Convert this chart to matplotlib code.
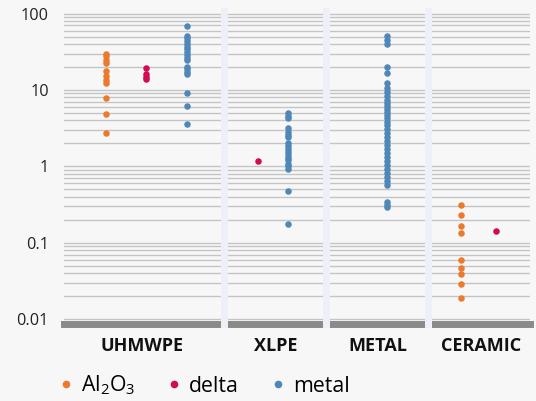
import numpy as np
import matplotlib.pyplot as plt
from matplotlib.lines import Line2D
from matplotlib.patches import Rectangle
from matplotlib.ticker import LogLocator, FixedLocator, NullFormatter

plt.rcParams['font.family'] = ['Open Sans', 'DejaVu Sans']

# data
panels = ['UHMWPE', 'XLPE', 'METAL', 'CERAMIC']
series_names = ['Al$_\\mathregular{2}$O$_\\mathregular{3}$', 'delta', 'metal']
colors = ['#ec7a2e', '#d30a55', '#4f88b8']

uhmwpe_al2o3 = [30, 27.5, 25, 22.3, 17.7, 15.2, 13.5, 12.5, 7.8, 4.9, 2.7]
uhmwpe_delta = [19.6, 16.2, 14.9, 13.9]
uhmwpe_metal = [68.6, 51.3, 47.4, 43.7, 40.3, 36.8, 34.0, 31.1, 28.7, 26.4,
                24.7, 20.2, 18.6, 17.3, 16.0, 9.1, 6.1, 3.6]
xlpe_delta = [1.19]
xlpe_metal = [5.0, 4.6, 4.3, 3.2, 2.85, 2.6, 2.4, 2.0, 1.85, 1.7, 1.55, 1.4,
              1.3, 1.2, 1.08, 1.0, 0.92, 0.48, 0.175]
metal_metal = [50.8, 45.0, 39.9, 20.0, 16.7, 12.3, 10.6, 9.4, 8.35, 7.4, 6.76,
               6.18, 5.64, 5.16, 4.71, 4.31, 3.82, 3.49, 3.09, 2.74, 2.43, 2.15,
               1.91, 1.69, 1.50, 1.33, 1.18, 1.05, 0.93, 0.82, 0.73, 0.65, 0.57,
               0.34, 0.31, 0.29]
ceramic_al2o3 = [0.315, 0.233, 0.167, 0.133, 0.060, 0.047, 0.0386, 0.0285, 0.019]
ceramic_delta = [0.144]

# (series index, values) for each panel
panel_data = [
    [(0, uhmwpe_al2o3), (1, uhmwpe_delta), (2, uhmwpe_metal)],
    [(1, xlpe_delta), (2, xlpe_metal)],
    [(2, metal_metal)],
    [(0, ceramic_al2o3), (1, ceramic_delta)],
]
y_ticks = [0.01, 0.1, 1, 10, 100]
y_ticklabels = ['0.01', '0.1', '1', '10', '100']

# layout (pixels)
W, H = 536, 401
bg = '#f7f7f7'
stripe = '#eef0f8'
panel_left = [64, 228, 330, 432]
panel_width = [157, 95, 95, 98]
panel_xlim = [(-1.025, 2.85), (-1.0, 2.167), (-1.9, 1.267), (-0.83, 1.97)]
top_px, bottom_px = 8, 323.5

fig = plt.figure(figsize=(W / 100, H / 100), dpi=100, facecolor=bg)

# separator stripes between panels
for i in range(len(panels) - 1):
    x0 = panel_left[i] + panel_width[i]
    x1 = panel_left[i + 1]
    fig.patches.append(Rectangle((x0 / W, (H - 328) / H), (x1 - x0) / W,
                                 (328 - top_px) / H, transform=fig.transFigure,
                                 facecolor=stripe, edgecolor='none', zorder=0))

for i, name in enumerate(panels):
    ax = fig.add_axes([panel_left[i] / W, (H - bottom_px) / H,
                       panel_width[i] / W, (bottom_px - top_px) / H])
    ax.set_facecolor(bg)
    ax.set_yscale('log')
    ax.set_ylim(0.00875, 118.5)
    ax.set_xlim(*panel_xlim[i])

    for pos, (s, vals) in enumerate(panel_data[i]):
        ax.scatter(np.full(len(vals), pos), vals, s=22, color=colors[s],
                   linewidths=0, zorder=3)

    ax.yaxis.set_major_locator(FixedLocator(y_ticks))
    ax.yaxis.set_minor_locator(LogLocator(base=10, subs=np.arange(2, 10)))
    ax.yaxis.set_minor_formatter(NullFormatter())
    ax.grid(which='both', axis='y', color='#c4c4c4', linewidth=1.0)
    ax.set_axisbelow(True)
    ax.set_xticks([])
    ax.tick_params(axis='y', which='both', length=0)
    if i == 0:
        ax.set_yticklabels(y_ticklabels)
        ax.tick_params(axis='y', labelsize=11.7, pad=11, labelcolor='#222222')
    else:
        ax.set_yticklabels([])

    for side in ['top', 'left', 'right']:
        ax.spines[side].set_visible(False)
    ax.spines['bottom'].set_color('#8a8a8a')
    ax.spines['bottom'].set_linewidth(5.0)

    ax.annotate(name, xy=(0.5, 0), xycoords='axes fraction', xytext=(0, -16.5),
                textcoords='offset points', ha='center', va='center',
                fontsize=13, fontweight='bold', color='#111111')

handles = [Line2D([], [], marker='o', linestyle='', markersize=5.5,
                  markerfacecolor=c, markeredgewidth=0) for c in colors]
fig.legend(handles, series_names, loc='lower left',
           bbox_to_anchor=(52 / W, -0.012), ncol=3, frameon=False,
           fontsize=15.3, handlelength=0.5, handletextpad=0.45,
           columnspacing=1.6, borderaxespad=0)

plt.savefig('out.png', dpi=100, facecolor=bg)
